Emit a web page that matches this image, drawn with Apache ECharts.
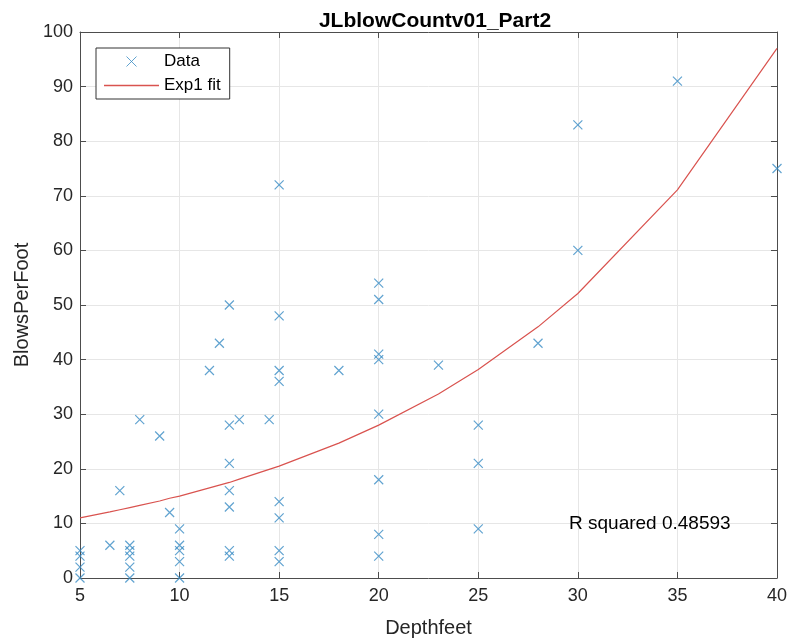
<!DOCTYPE html>
<html>
<head>
<meta charset="utf-8">
<title>JLblowCountv01_Part2</title>
<script src="https://cdn.jsdelivr.net/npm/echarts@6/dist/echarts.min.js"></script>
<style>
  html, body { margin: 0; padding: 0; background: #fff; }
  #chart { width: 791px; height: 644px; }
</style>
</head>
<body>
<div id="chart"></div>
<script>
// 测量数据 (depth, blows per foot)
const depthFeet = [
  5, 5, 5, 5,
  6.5, 7,
  7.5, 7.5, 7.5, 7.5, 7.5,
  8, 9, 9.5,
  10, 10, 10, 10, 10,
  11.5, 12,
  12.5, 12.5, 12.5, 12.5, 12.5, 12.5, 12.5,
  13, 14.5,
  15, 15, 15, 15, 15, 15, 15, 15,
  18,
  20, 20, 20, 20, 20, 20, 20, 20,
  23,
  25, 25, 25,
  28, 30, 30, 35, 40
]
const blowsPerFoot = [
  5, 4, 2, 0,
  6, 16,
  6, 5, 4, 2, 0,
  29, 26, 12,
  9, 6, 5, 3, 0,
  38, 43,
  50, 28, 21, 16, 13, 5, 4,
  29, 29,
  72, 48, 38, 36, 14, 11, 5, 3,
  38,
  54, 51, 41, 40, 30, 18, 8, 4,
  39,
  28, 21, 9,
  43, 83, 60, 91, 75
]

// 拟合曲线 (Exp1 fit)，在各个深度处读取
const fitX = [5, 6.5, 7, 7.5, 8, 9, 9.5, 10, 11.5, 12, 12.5, 13, 14.5, 15, 18, 20, 23, 25, 28, 30, 35, 40]
const fitY = [11.0, 12.1, 12.5, 12.9, 13.3, 14.1, 14.6, 15.0, 16.5, 17.0, 17.5, 18.1, 19.9, 20.5, 24.7, 28.0, 33.7, 38.2, 46.0, 52.1, 71.1, 97.0]

const rSquaredText = 'R squared 0.48593'

const crossPath = 'path://M0,0L10,10M10,0L0,10'
const dataColor = '#3a8cc4'
const fitColor = '#d9534f'
const axisColor = '#4d4d4d'
const labelColor = '#262626'
const fontFamily = 'Liberation Sans, Arial, sans-serif'

const chart = echarts.init(document.getElementById('chart'))

const scatterData = depthFeet.map((d, i) => [d, blowsPerFoot[i]])
const fitData = fitX.map((d, i) => [d, fitY[i]])

// 上、右两侧的框线（只画刻度，不画标签）
const boxAxis = {
  axisLine: { show: true, onZero: false, lineStyle: { color: axisColor, width: 1 } },
  axisTick: { show: true, inside: true, length: 6, lineStyle: { color: axisColor } },
  splitLine: { show: false },
  axisLabel: { show: false }
}

const option = {
  animation: false,
  backgroundColor: '#fff',
  title: {
    text: 'JLblowCountv01_Part2',
    left: 430,
    textAlign: 'center',
    top: 6,
    textStyle: { fontFamily, fontSize: 21, fontWeight: 'bold', color: '#000' }
  },
  legend: {
    orient: 'vertical',
    left: 96,
    top: 48,
    padding: [5, 9, 5, 8],
    itemGap: 7,
    itemWidth: 55,
    itemHeight: 10,
    borderColor: '#333',
    borderWidth: 1,
    borderRadius: 0,
    backgroundColor: '#fff',
    textStyle: { fontFamily, fontSize: 17, color: '#000' },
    data: [
      { name: 'Data', icon: crossPath, itemStyle: { color: 'transparent', borderColor: dataColor, borderWidth: 1 } },
      { name: 'Exp1 fit', icon: 'path://M0,0L55,0L55,1.5L0,1.5Z', itemStyle: { color: fitColor } }
    ]
  },
  grid: { left: 80, right: 14, top: 32, bottom: 66 },
  xAxis: [
    {
      type: 'value',
      min: 5,
      max: 40,
      interval: 5,
      name: 'Depthfeet',
      nameLocation: 'middle',
      nameGap: 40,
      nameTextStyle: { fontFamily, fontSize: 20, color: labelColor },
      axisLine: { show: true, onZero: false, lineStyle: { color: axisColor, width: 1 } },
      axisTick: { show: true, inside: true, length: 6, lineStyle: { color: axisColor } },
      axisLabel: { fontFamily, fontSize: 18, color: labelColor, margin: 9 },
      splitLine: { show: true, lineStyle: { color: '#e6e6e6', width: 1 } }
    },
    Object.assign({ type: 'value', position: 'top', min: 5, max: 40, interval: 5 }, boxAxis)
  ],
  yAxis: [
    {
      type: 'value',
      min: 0,
      max: 100,
      interval: 10,
      name: 'BlowsPerFoot',
      nameLocation: 'middle',
      nameGap: 48,
      nameTextStyle: { fontFamily, fontSize: 20, color: labelColor },
      axisLine: { show: true, onZero: false, lineStyle: { color: axisColor, width: 1 } },
      axisTick: { show: true, inside: true, length: 6, lineStyle: { color: axisColor } },
      axisLabel: { fontFamily, fontSize: 18, color: labelColor, margin: 7 },
      splitLine: { show: true, lineStyle: { color: '#e6e6e6', width: 1 } }
    },
    Object.assign({ type: 'value', position: 'right', min: 0, max: 100, interval: 10 }, boxAxis)
  ],
  series: [
    {
      name: 'Data',
      type: 'scatter',
      symbol: crossPath,
      symbolSize: 9,
      itemStyle: { color: 'transparent', borderColor: dataColor, borderWidth: 1.2 },
      data: scatterData,
      z: 3
    },
    {
      name: 'Exp1 fit',
      type: 'line',
      showSymbol: false,
      symbol: 'none',
      lineStyle: { color: fitColor, width: 1.2 },
      itemStyle: { color: fitColor },
      data: fitData,
      z: 2
    }
  ],
  graphic: [
    {
      type: 'text',
      left: 569,
      top: 514,
      z: 100,
      style: {
        text: rSquaredText,
        fontFamily,
        fontSize: 19,
        fill: '#000'
      }
    }
  ]
}

chart.setOption(option)
</script>
</body>
</html>
